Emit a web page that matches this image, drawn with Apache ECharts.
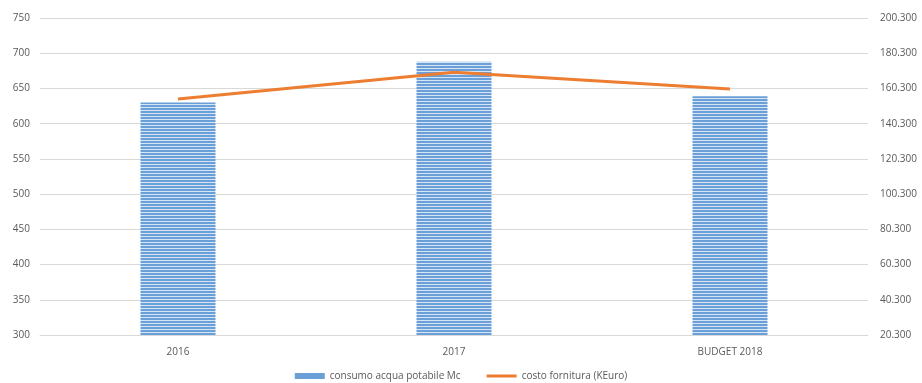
<!DOCTYPE html>
<html>
<head>
<meta charset="utf-8">
<script src="https://cdn.jsdelivr.net/npm/echarts@6/dist/echarts.min.js"></script>
<style>html,body{margin:0;padding:0;background:#fff}#c{width:922px;height:383px}</style>
</head>
<body>
<div id="c"></div>
<script>
const categories = ['2016', '2017', 'BUDGET 2018'];
const consumo = [630, 688, 639];
const costo = [154.3, 169.5, 160.0];
const seriesNames = ['consumo acqua potabile Mc', 'costo fornitura (KEuro)'];

function stripes() {
  const c = document.createElement('canvas');
  c.width = 4; c.height = 3;
  const g = c.getContext('2d');
  g.fillStyle = '#d6e5f5'; g.fillRect(0, 0, 4, 3);
  g.fillStyle = '#6b9fd8'; g.fillRect(0, 0, 4, 2);
  return c;
}
const pat = { image: stripes(), repeat: 'repeat' };
const txt = '#595959';
const chart = echarts.init(document.getElementById('c'));
chart.setOption({
  animation: false,
  textStyle: { fontFamily: 'Open Sans, Calibri, sans-serif' },
  grid: { left: 40, right: 54, top: 18, bottom: 48 },
  legend: {
    bottom: -3, left: 'center', itemGap: 26,
    textStyle: { color: txt, fontSize: 10 },
    data: [
      { name: seriesNames[0], icon: 'rect', itemStyle: { color: '#6b9fd8' } },
      { name: seriesNames[1], icon: 'path://M0,0 L30,0 L30,3 L0,3 Z', itemStyle: { color: '#ed7d31' } }
    ],
    itemWidth: 30, itemHeight: 6
  },
  xAxis: {
    type: 'category', data: categories,
    axisLine: { lineStyle: { color: '#d9d9d9' } },
    axisTick: { show: false },
    axisLabel: { color: txt, fontSize: 10, margin: 12 }
  },
  yAxis: [
    {
      type: 'value', min: 300, max: 750, interval: 50,
      axisLabel: { color: txt, fontSize: 10, margin: 10 },
      splitLine: { lineStyle: { color: '#d9d9d9' } },
      axisLine: { show: false }, axisTick: { show: false }
    },
    {
      type: 'value', min: 20.3, max: 200.3, interval: 20,
      position: 'right',
      axisLabel: { color: txt, fontSize: 10, margin: 12, formatter: v => v.toFixed(3) },
      splitLine: { show: false },
      axisLine: { show: false }, axisTick: { show: false }
    }
  ],
  series: [
    {
      name: seriesNames[0], type: 'bar', data: consumo, barWidth: 75,
      itemStyle: { color: pat }
    },
    {
      name: seriesNames[1], type: 'line', yAxisIndex: 1, data: costo,
      symbol: 'none', lineStyle: { color: '#ed7d31', width: 3 },
      itemStyle: { color: '#ed7d31' }
    }
  ]
});
</script>
</body>
</html>
